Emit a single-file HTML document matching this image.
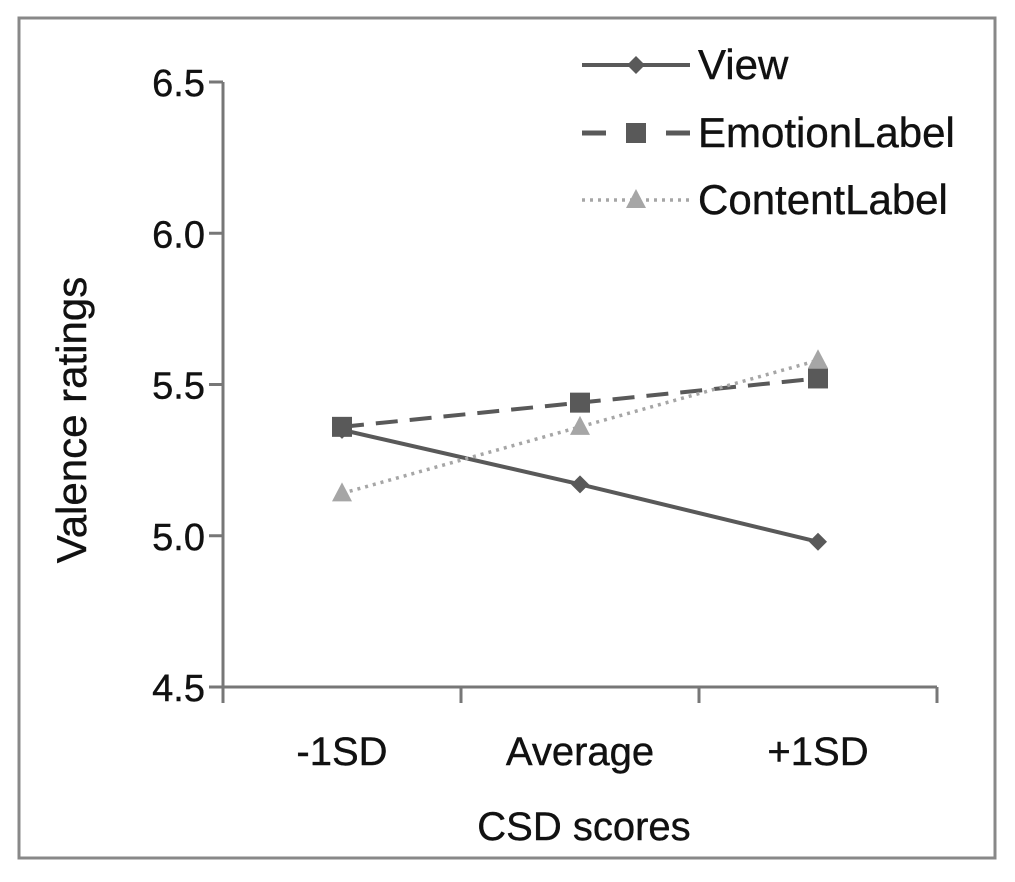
<!DOCTYPE html>
<html><head><meta charset="utf-8"><style>
html,body{margin:0;padding:0;background:#fff;}
svg text{font-family:"Liberation Sans",sans-serif;fill:#111;stroke:#111;stroke-width:0.4;}
</style></head><body>
<svg id="chart" width="1015" height="877" xmlns="http://www.w3.org/2000/svg">
<rect x="19" y="18" width="976" height="840" fill="#fff" stroke="#888" stroke-width="3"/>
<g id="axes"></g>
<g id="series"></g>
<g id="legend"></g>
</svg>
<script>
const categories = ["-1SD","Average","+1SD"];
const viewValues = [5.35, 5.17, 4.98];
const emotionValues = [5.36, 5.44, 5.52];
const contentValues = [5.14, 5.36, 5.58];
const yTicks = [4.5, 5.0, 5.5, 6.0, 6.5];
const yTickLabels = ["4.5","5.0","5.5","6.0","6.5"];

const NS="http://www.w3.org/2000/svg";
const X0=223, X1=937, Y0=687, Y1=82, YMIN=4.5, YMAX=6.5;
function yScale(v){return Y0-(v-YMIN)/(YMAX-YMIN)*(Y0-Y1);}
function xBand(i){return X0+(X1-X0)/categories.length*i;}
function xScale(i){return X0+(X1-X0)/categories.length*(i+0.5);}
function mk(tag,attrs,parent){const e=document.createElementNS(NS,tag);for(const k in attrs)e.setAttribute(k,attrs[k]);parent.appendChild(e);return e;}
const axes=document.getElementById('axes');
const series=document.getElementById('series');
const legend=document.getElementById('legend');

let e=mk('line',{x1:X0,y1:Y1,x2:X0,y2:Y0,stroke:'#777','stroke-width':3},axes);


e=mk('line',{x1:X0,y1:Y0,x2:X1,y2:Y0,stroke:'#777','stroke-width':3},axes);


yTicks.forEach((v,i)=>{
  const y=yScale(v);
  let t=mk('line',{x1:X0-14,y1:y,x2:X0,y2:y,stroke:'#777','stroke-width':3},axes);
  
  
  let l=mk('text',{x:X0-18,y:y+14,'text-anchor':'end','font-size':38},axes);
  l.textContent=yTickLabels[i];
  
  
});
for(let i=0;i<=categories.length;i++){
  const x=xBand(i);
  let t=mk('line',{x1:x,y1:Y0,x2:x,y2:Y0+16,stroke:'#777','stroke-width':3},axes);
  
  
}
categories.forEach((c,i)=>{
  let l=mk('text',{x:xScale(i),y:765,'text-anchor':'middle','font-size':40},axes);
  l.textContent=c;
  
  
});
let xt=mk('text',{x:584,y:840,'text-anchor':'middle','font-size':40},axes);
xt.textContent='CSD scores';


let yt=mk('text',{x:0,y:0,'text-anchor':'middle','font-size':42,transform:'translate(86,420) rotate(-90)'},axes);
yt.textContent='Valence ratings';



function marker(type,x,y,color,parent){
  let m;
  if(type==='diamond') m=mk('polygon',{points:`${x},${y-9} ${x+9},${y} ${x},${y+9} ${x-9},${y}`,fill:color},parent);
  else if(type==='square') m=mk('rect',{x:x-10,y:y-10,width:20,height:20,fill:color},parent);
  else m=mk('polygon',{points:`${x},${y-11} ${x+10},${y+8} ${x-10},${y+8}`,fill:color},parent);
  return m;
}
const defs=[
 {name:'view',label:'View',vals:viewValues,color:'#595959',dash:'',w:4,mk:'diamond',ly:65},
 {name:'emotion-label',label:'EmotionLabel',vals:emotionValues,color:'#595959',dash:'22,12',w:4,mk:'square',ly:133},
 {name:'content-label',label:'ContentLabel',vals:contentValues,color:'#a6a6a6',dash:'3,5',w:3.5,mk:'triangle',ly:200}
];
defs.forEach(d=>{
  const pts=d.vals.map((v,i)=>xScale(i)+','+yScale(v)).join(' ');
  let p=mk('polyline',{points:pts,fill:'none',stroke:d.color,'stroke-width':d.w,'stroke-dasharray':d.dash},series);
  
  
  d.vals.forEach((v,i)=>{
    let m=marker(d.mk,xScale(i),yScale(v),d.color,series);
    
    
  });
  let g=mk('g',{},legend);
  
  
  if(d.mk==='square'){
    mk('line',{x1:582,y1:d.ly,x2:606,y2:d.ly,stroke:d.color,'stroke-width':5},g);
    mk('line',{x1:666,y1:d.ly,x2:690,y2:d.ly,stroke:d.color,'stroke-width':5},g);
  } else {
    mk('line',{x1:582,y1:d.ly,x2:690,y2:d.ly,stroke:d.color,'stroke-width':d.w,'stroke-dasharray':d.dash},g);
  }
  marker(d.mk,636,d.ly,d.color,g);
  let t=mk('text',{x:698,y:d.ly+14,'font-size':42},g);
  t.textContent=d.label;
});
</script>
</body></html>
